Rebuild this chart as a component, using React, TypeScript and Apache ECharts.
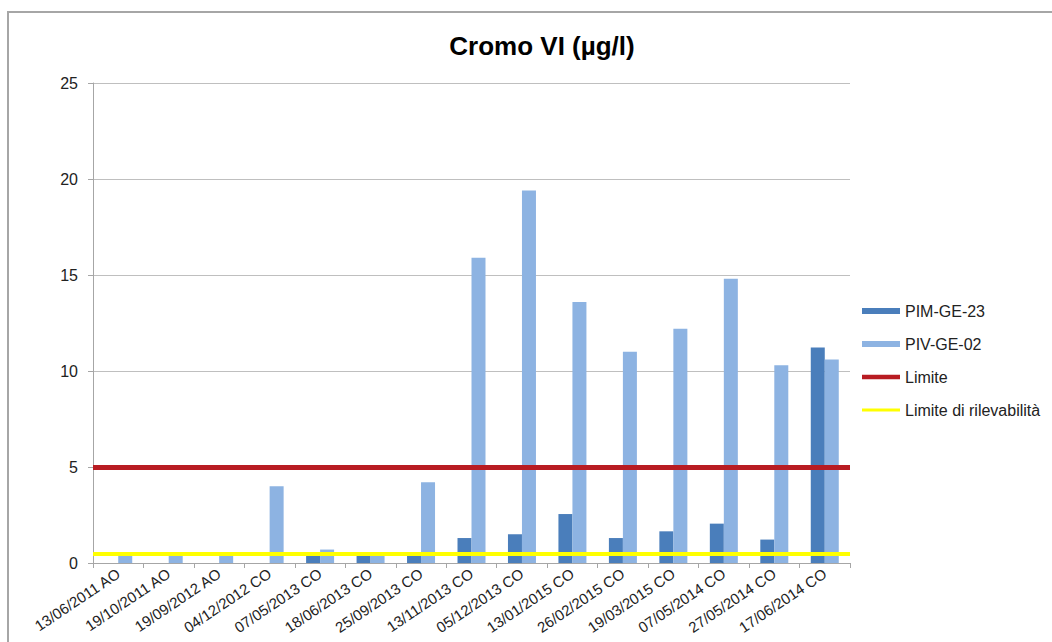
import React, { useEffect, useRef } from "react";
import * as echarts from "echarts";

const categories = [
  "13/06/2011 AO",
  "19/10/2011 AO",
  "19/09/2012 AO",
  "04/12/2012 CO",
  "07/05/2013 CO",
  "18/06/2013 CO",
  "25/09/2013 CO",
  "13/11/2013 CO",
  "05/12/2013 CO",
  "13/01/2015 CO",
  "26/02/2015 CO",
  "19/03/2015 CO",
  "07/05/2014 CO",
  "27/05/2014 CO",
  "17/06/2014 CO",
];

const pimGe23 = [null, null, null, null, 0.5, 0.5, 0.5, 1.3, 1.5, 2.55, 1.3, 1.65, 2.05, 1.22, 11.23];
const pivGe02 = [0.5, 0.5, 0.5, 4.0, 0.7, 0.5, 4.2, 15.9, 19.4, 13.6, 11.0, 12.2, 14.8, 10.3, 10.6];
const limite = 5;
const limiteRilevabilita = 0.5;
const yTicks = { min: 0, max: 25, interval: 5 };

const FONT = "'Liberation Sans', Arial, sans-serif";

export default function App() {
  const ref = useRef<HTMLDivElement>(null);

  useEffect(() => {
    if (!ref.current) return;
    const chart = echarts.init(ref.current, null, { renderer: "svg" });
    const empty = categories.map(() => null);
    chart.setOption({
      animation: false,
      backgroundColor: "#ffffff",
      textStyle: { fontFamily: FONT },
      title: {
        text: "Cromo VI (µg/l)",
        left: 537,
        top: 28,
        textAlign: "center",
        textStyle: { fontFamily: FONT, fontSize: 26, fontWeight: "bold", color: "#000000" },
      },
      graphic: [
        {
          type: "rect",
          shape: { x: 8, y: 12, width: 1100, height: 700 },
          style: { fill: "none", stroke: "#a6a6a6", lineWidth: 2 },
          silent: true,
        },
      ],
      legend: {
        orient: "vertical",
        left: 857,
        top: 298,
        itemWidth: 38,
        itemHeight: 6,
        itemGap: 17,
        textStyle: { fontFamily: FONT, fontSize: 16, color: "#222222", lineHeight: 16 },
        data: [
          { name: "PIM-GE-23", icon: "rect" },
          { name: "PIV-GE-02", icon: "rect" },
          { name: "Limite", icon: "path://M0,0L0.01,0L0,0.01Z M0,0.6H40V5.4H0Z M0,6L0.01,6L0,5.99Z" },
          { name: "Limite di rilevabilità", icon: "path://M0,0L0.01,0L0,0.01Z M0,1.5H40V4.5H0Z M0,6L0.01,6L0,5.99Z" },
        ],
      },
      grid: { left: 93, right: 202, top: 83, bottom: 79, containLabel: false },
      xAxis: {
        type: "category",
        data: categories,
        axisLine: { lineStyle: { color: "#a6a6a6", width: 1 } },
        axisTick: { show: true, length: 5, lineStyle: { color: "#a6a6a6" } },
        axisLabel: { rotate: 34, fontFamily: FONT, fontSize: 15, color: "#222222", margin: 9, interval: 0 },
        splitLine: { show: false },
      },
      yAxis: {
        type: "value",
        min: yTicks.min,
        max: yTicks.max,
        interval: yTicks.interval,
        axisLine: { show: true, lineStyle: { color: "#a6a6a6", width: 1 } },
        axisTick: { show: true, length: 5, lineStyle: { color: "#a6a6a6" } },
        axisLabel: { fontFamily: FONT, fontSize: 16, color: "#222222", margin: 15 },
        splitLine: { show: true, lineStyle: { color: "#bfbfbf", width: 1 } },
      },
      series: [
        {
          name: "PIM-GE-23",
          type: "bar",
          data: pimGe23,
          barWidth: 14,
          barGap: "0%",
          itemStyle: { color: "#4A7EBB" },
        },
        {
          name: "PIV-GE-02",
          type: "bar",
          data: pivGe02,
          barWidth: 14,
          barGap: "0%",
          itemStyle: { color: "#8DB3E2" },
        },
        {
          name: "Limite",
          type: "line",
          data: empty,
          symbol: "none",
          itemStyle: { color: "#B81C22" },
          lineStyle: { color: "#B81C22", width: 4 },
          markLine: {
            silent: true,
            symbol: ["none", "none"],
            label: { show: false },
            lineStyle: { color: "#B81C22", width: 5, type: "solid" },
            data: [{ yAxis: limite }],
          },
          z: 5,
        },
        {
          name: "Limite di rilevabilità",
          type: "line",
          data: empty,
          symbol: "none",
          itemStyle: { color: "#FFFF00" },
          lineStyle: { color: "#FFFF00", width: 3 },
          markLine: {
            silent: true,
            symbol: ["none", "none"],
            label: { show: false },
            lineStyle: { color: "#FFFF00", width: 4, type: "solid" },
            data: [{ yAxis: limiteRilevabilita }],
          },
          z: 5,
        },
      ],
    });
    return () => chart.dispose();
  }, []);

  return (
    <div
      ref={ref}
      style={{ position: "absolute", left: 0, top: 0, width: 1052, height: 642, background: "#fff" }}
    />
  );
}
